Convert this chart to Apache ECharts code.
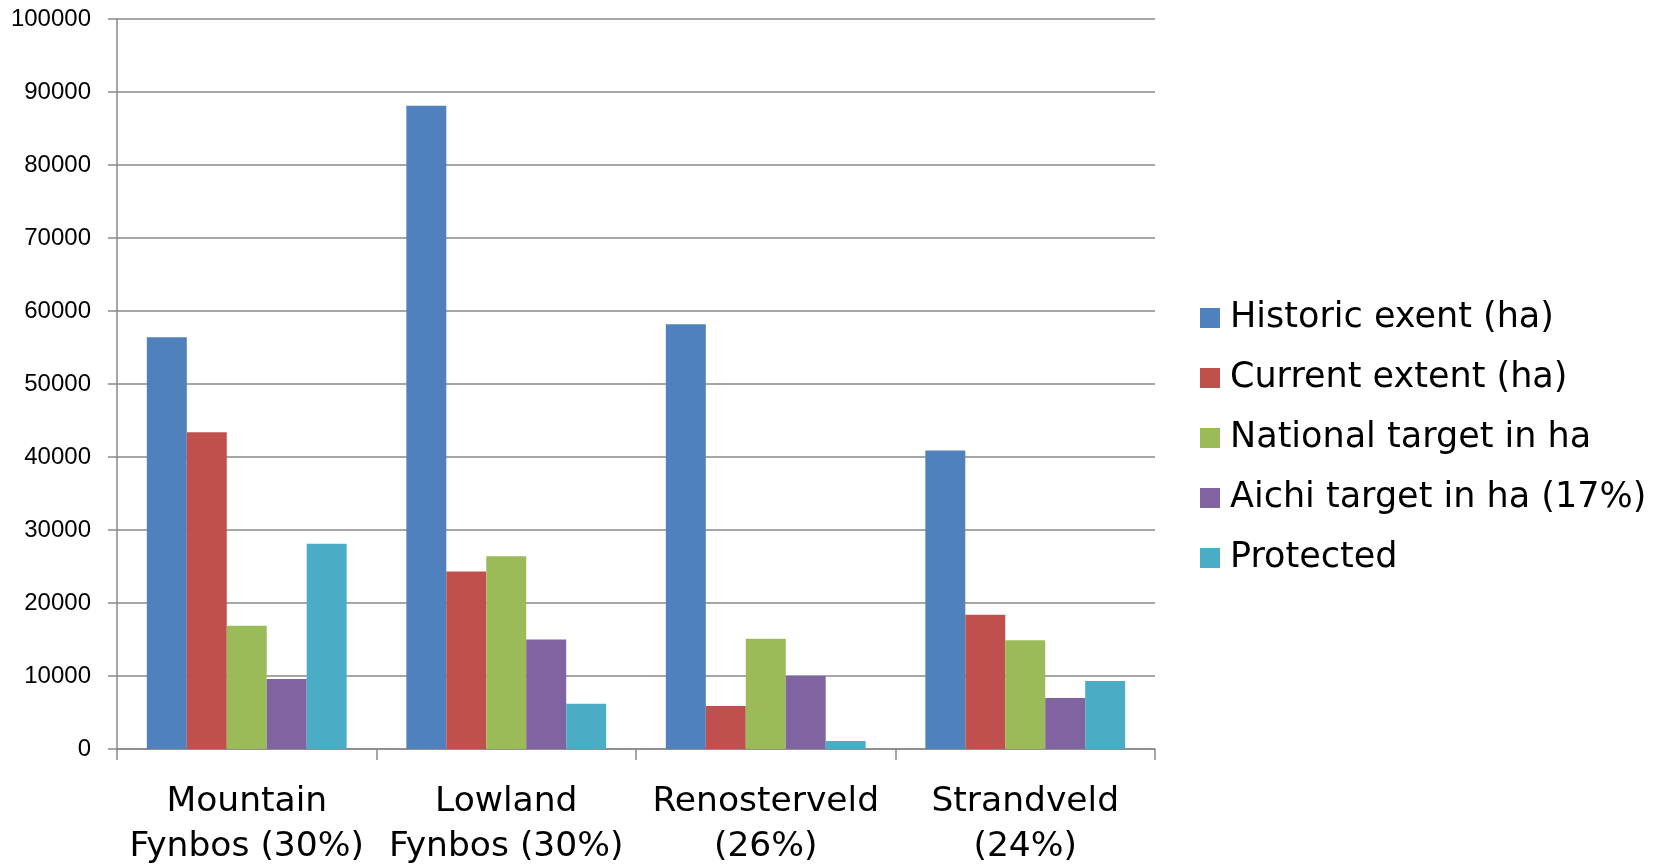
<!DOCTYPE html>
<html>
<head>
<meta charset="utf-8">
<style>
  html, body { margin: 0; padding: 0; background: #ffffff; }
  #chart { width: 1661px; height: 864px; }
</style>
<script src="https://cdn.jsdelivr.net/npm/echarts@6/dist/echarts.min.js"></script>
</head>
<body>
<div id="chart"></div>
<script>
const categories = ['Mountain\nFynbos (30%)', 'Lowland\nFynbos (30%)', 'Renosterveld\n(26%)', 'Strandveld\n(24%)'];
const seriesNames = ['Historic exent (ha)', 'Current extent (ha)', 'National target in ha', 'Aichi target in ha (17%)', 'Protected'];
const historic = [56400, 88100, 58200, 40900];
const current = [43400, 24300, 5900, 18400];
const nationalTarget = [16900, 26400, 15100, 14900];
const aichiTarget = [9600, 15000, 10000, 7000];
const protectedArea = [28100, 6200, 1100, 9300];
const yTicks = { min: 0, max: 100000, interval: 10000 };

const colors = ['#4F81BD', '#C0504D', '#9BBB59', '#8064A2', '#4BACC6'];
const seriesData = [historic, current, nationalTarget, aichiTarget, protectedArea];

const chart = echarts.init(document.getElementById('chart'), null, { renderer: 'canvas' });
const gray = '#898989';
chart.setOption({
  animation: false,
  color: colors,
  grid: { left: 117, right: 506, top: 19, bottom: 115, containLabel: false, outerBoundsMode: 'none' },
  legend: {
    orient: 'vertical',
    left: 1200,
    top: 298,
    padding: 0,
    icon: 'rect',
    itemWidth: 20,
    itemHeight: 20,
    itemGap: 20,
    data: seriesNames,
    textStyle: {
      fontFamily: 'DejaVu Sans',
      fontSize: 35,
      color: '#000000',
      lineHeight: 40,
      padding: [0, 0, 0, 5]
    }
  },
  xAxis: {
    type: 'category',
    data: categories,
    axisLine: { show: true, lineStyle: { color: gray, width: 1.5 } },
    axisTick: { show: true, length: 11, lineStyle: { color: gray, width: 1.5 } },
    axisLabel: {
      color: '#000000',
      fontFamily: 'DejaVu Sans',
      fontSize: 34.5,
      lineHeight: 45,
      margin: 31,
      interval: 0
    },
    splitLine: { show: false }
  },
  yAxis: {
    type: 'value',
    min: yTicks.min,
    max: yTicks.max,
    interval: yTicks.interval,
    axisLine: { show: true, lineStyle: { color: gray, width: 1.5 } },
    axisTick: { show: true, length: 9, lineStyle: { color: gray, width: 1.5 } },
    axisLabel: {
      color: '#000000',
      fontFamily: 'Liberation Sans',
      fontSize: 24,
      margin: 26,
      formatter: function (v) { return String(v); }
    },
    splitLine: { show: true, lineStyle: { color: gray, width: 1.5 } }
  },
  series: seriesNames.map((name, i) => ({
    name: name,
    type: 'bar',
    data: seriesData[i],
    barGap: '0%',
    barCategoryGap: '23%',
    itemStyle: { color: colors[i] }
  }))
});
</script>
</body>
</html>
